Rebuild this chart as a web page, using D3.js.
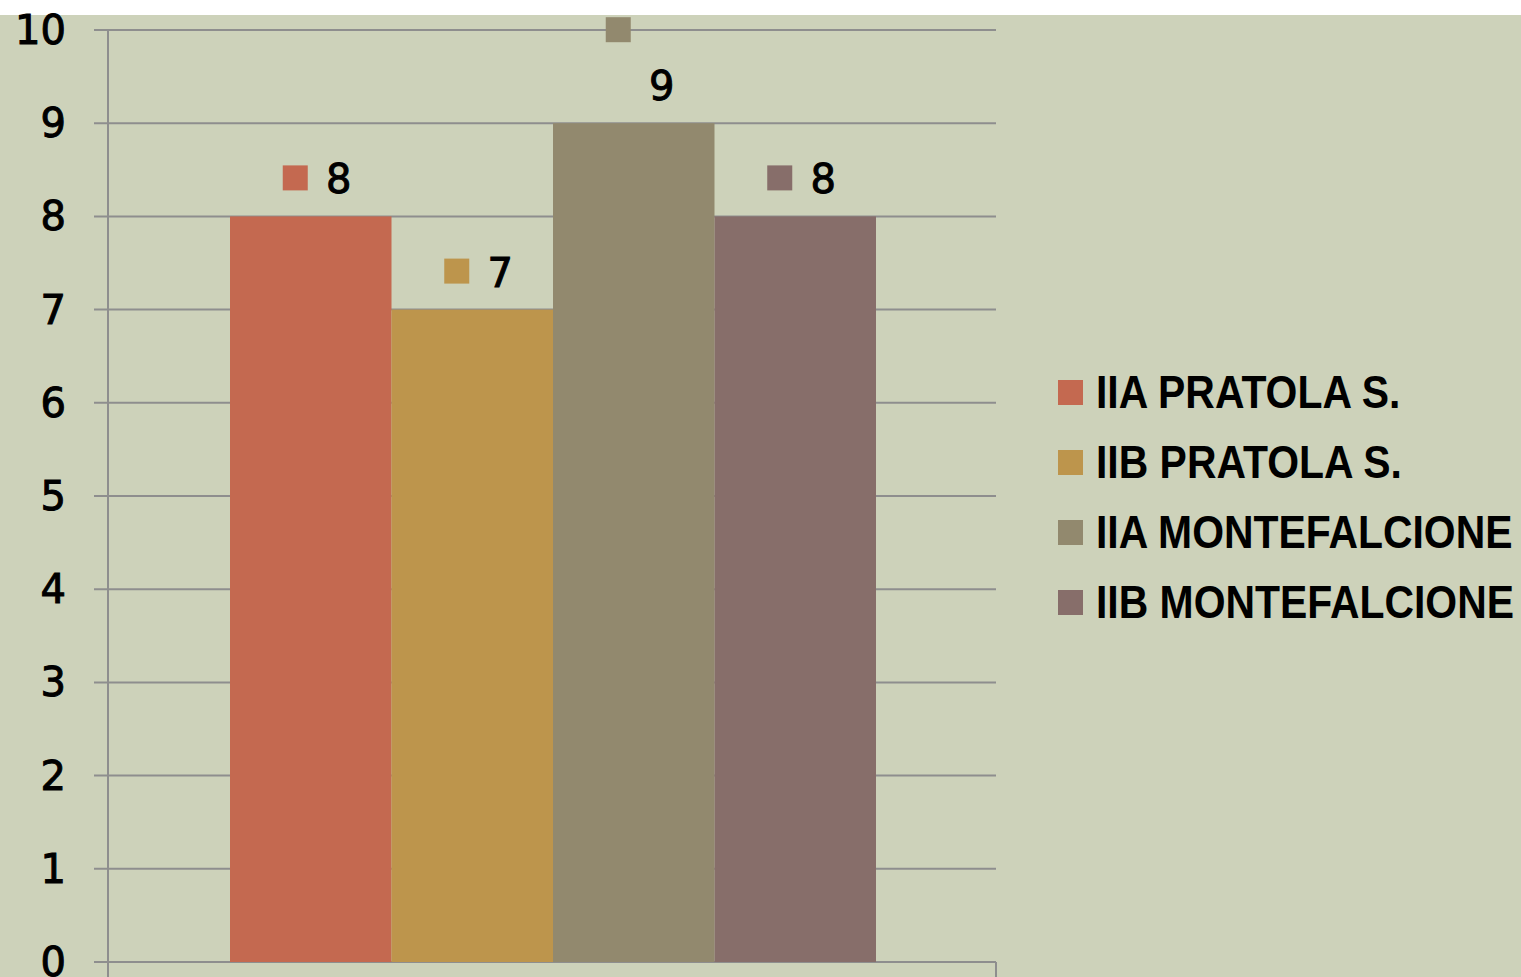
<!DOCTYPE html>
<html lang="it">
<head>
    <meta charset="UTF-8">
    <title>Classi</title>
    <style>
        body { margin: 0; background: #ffffff; }
        svg { display: block; }
        .tick-label { font-family: "DejaVu Sans", sans-serif; font-size: 40px; fill: #000; stroke: #000; stroke-width: 1; }
        .legend-label { font-family: "Liberation Sans Narrow", "Liberation Sans", sans-serif; font-weight: bold; font-size: 46px; fill: #000; }
    </style>
</head>
<body>
    <div id="chart"></div>
    <script src="https://d3js.org/d3.v7.min.js"></script>
    <script>
        // Data
        const series = ['IIA PRATOLA S.', 'IIB PRATOLA S.', 'IIA MONTEFALCIONE', 'IIB MONTEFALCIONE'];
        const values = [8, 7, 9, 8];
        const colors = ['#C46950', '#BD954C', '#92896E', '#876E6A'];
        const yTicks = [0, 1, 2, 3, 4, 5, 6, 7, 8, 9, 10];

        const W = 1521, H = 977;
        const plot = { left: 108, right: 996, top: 30, bottom: 962 };

        const svg = d3.select('#chart').append('svg')
            .attr('width', W)
            .attr('height', H);

        // background panel
        svg.append('rect')
            .attr('x', 0).attr('y', 15)
            .attr('width', W).attr('height', H - 15)
            .attr('fill', '#CDD2BA');

        const y = d3.scaleLinear().domain([0, 10]).range([plot.bottom, plot.top]);
        const x = d3.scaleBand().domain(series).range([230, 876]).padding(0);

        // gridlines
        svg.append('g')
            .selectAll('line')
            .data(yTicks)
            .join('line')
            .attr('x1', plot.left - 14)
            .attr('x2', plot.right)
            .attr('y1', d => y(d))
            .attr('y2', d => y(d))
            .attr('stroke', '#8E8E8E')
            .attr('stroke-width', 2);

        // y axis line and category tick lines
        svg.append('line')
            .attr('x1', plot.left).attr('x2', plot.left)
            .attr('y1', plot.top).attr('y2', H)
            .attr('stroke', '#8E8E8E').attr('stroke-width', 2);
        svg.append('line')
            .attr('x1', plot.right).attr('x2', plot.right)
            .attr('y1', plot.bottom).attr('y2', H)
            .attr('stroke', '#8E8E8E').attr('stroke-width', 2);

        // tick labels
        svg.append('g')
            .selectAll('text')
            .data(yTicks)
            .join('text')
            .attr('class', 'tick-label')
            .attr('x', 66)
            .attr('y', d => y(d) + 14)
            .attr('text-anchor', 'end')
            .text(d => d);

        // bars
        svg.append('g')
            .selectAll('rect')
            .data(values)
            .join('rect')
            .attr('x', (d, i) => x(series[i]))
            .attr('y', d => y(d))
            .attr('width', x.bandwidth())
            .attr('height', d => y(0) - y(d))
            .attr('fill', (d, i) => colors[i]);

        // data labels (marker + value); the tallest one wraps onto two lines
        const labels = svg.append('g')
            .selectAll('g')
            .data(values)
            .join('g')
            .attr('transform', (d, i) => `translate(${x(series[i]) + x.bandwidth() / 2},${y(d)})`);

        labels.append('rect')
            .attr('x', -28)
            .attr('y', (d, i) => i === 2 ? -106 : -51)
            .attr('width', 25)
            .attr('height', 25)
            .attr('fill', (d, i) => colors[i]);

        labels.append('text')
            .attr('class', 'tick-label')
            .attr('x', 28)
            .attr('y', -23)
            .attr('text-anchor', 'middle')
            .text(d => d);

        // legend
        const legend = svg.append('g')
            .selectAll('g')
            .data(series)
            .join('g')
            .attr('transform', (d, i) => `translate(1058,${392 + i * 70})`);

        legend.append('rect')
            .attr('x', 0).attr('y', -12)
            .attr('width', 25).attr('height', 25)
            .attr('fill', (d, i) => colors[i]);

        const legendText = legend.append('text')
            .attr('class', 'legend-label')
            .text(d => d);

        // narrow the labels so the longest one spans ~418px, like a condensed face
        const longW = d3.max(legendText.nodes(), n => n.getComputedTextLength());
        const sx = 418 / longW;
        legendText.attr('transform', `translate(38,16) scale(${sx},1)`);
    </script>
</body>
</html>
